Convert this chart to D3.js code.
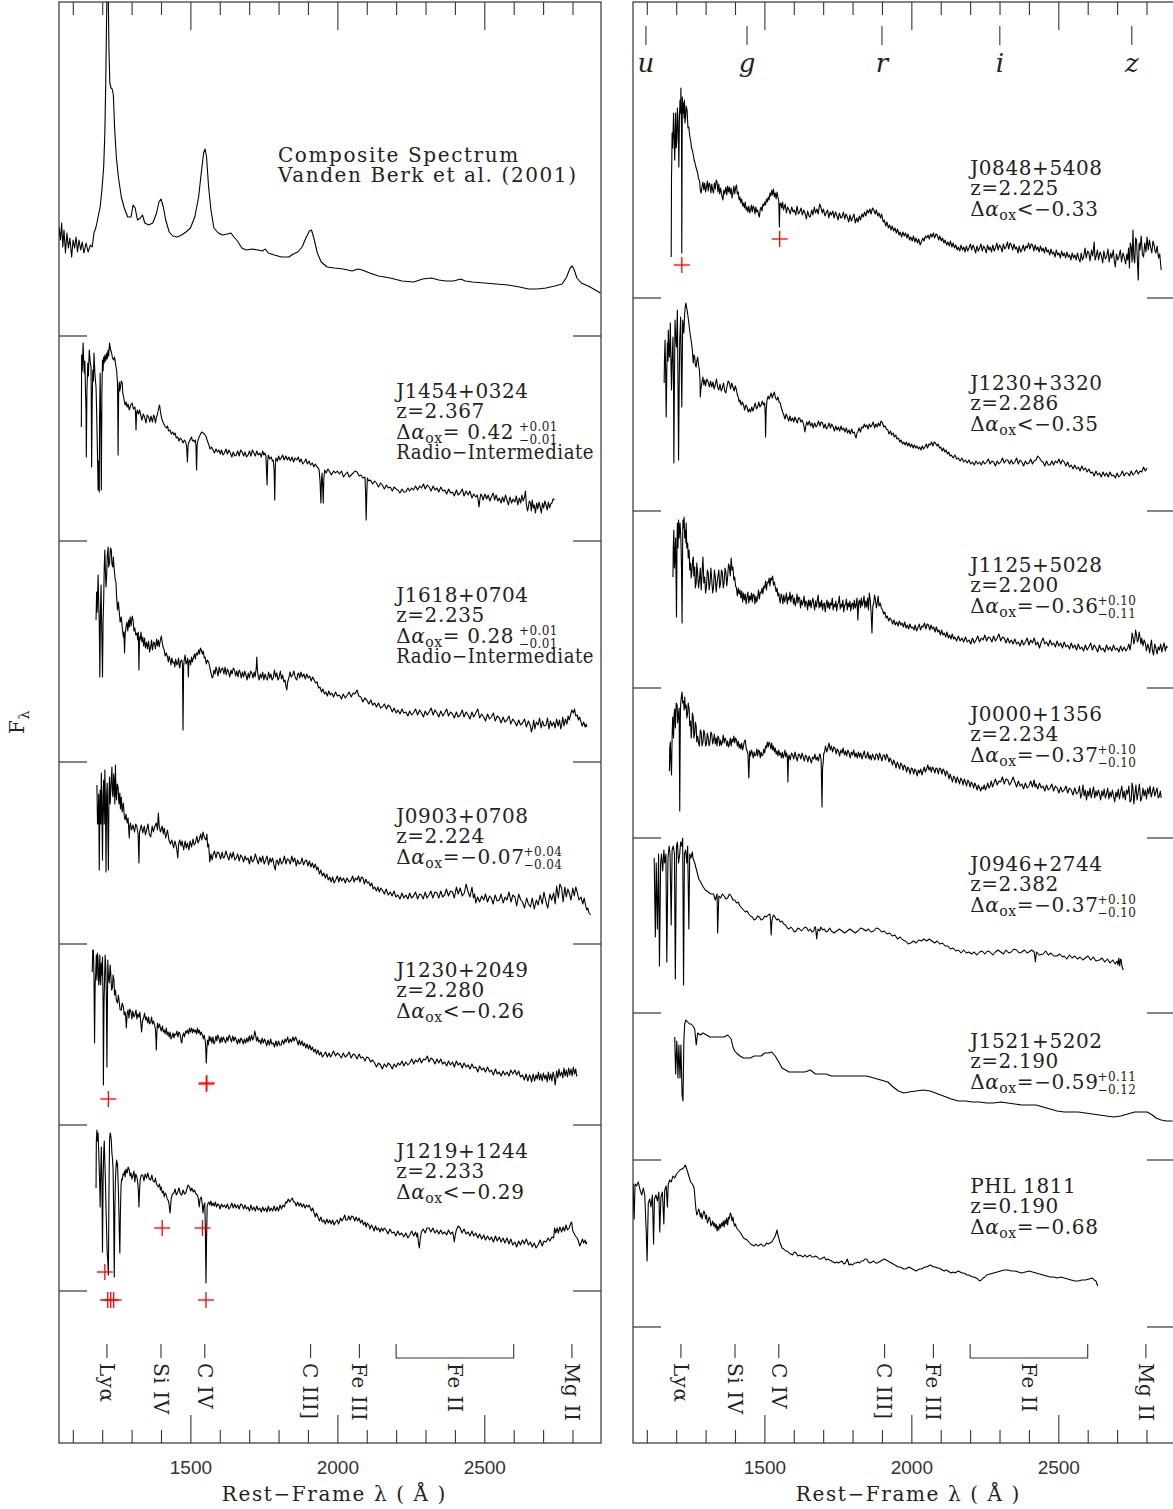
<!DOCTYPE html>
<html><head><meta charset="utf-8">
<script src="https://cdn.jsdelivr.net/npm/d3@7"></script>
<style>
body{margin:0;background:#fff}
svg{display:block}
.serif{font-family:"DejaVu Serif",serif;fill:#222;letter-spacing:0.6px}
</style>
</head><body>
<svg id="chart" width="1173" height="1509"></svg>
<script>
// ---------------- DATA ----------------
const waveDomain = [1053, 2897];           // rest-frame wavelength (Å)
const fluxDomain = [0, 1441];              // arbitrary F_lambda + offset units
const majorTicks = [1500, 2000, 2500];
const minorTicks = [1100,1200,1300,1400,1600,1700,1800,1900,2100,2200,2300,2400,2600,2700,2800];
const lineNames = ["Lyα", "Si IV", "C IV", "C III]", "Fe III", "Mg II"];
const lineWaves = [1216, 1400, 1549, 1909, 2075, 2798];
const feIIName = "Fe II";
const feIIRange = [2200, 2600];
const filterNames = ["u", "g", "r", "i", "z"];
const filterWaves = [1097, 1441, 1900, 2301, 2750];

// spectrum offsets (separator levels) per column
const leftOffsets  = [1107, 902, 681, 499, 318, 152];
const rightOffsets = [1145, 932, 755, 605, 430, 283, 116];

const composite = [[1053,109],[1058,96],[1062,113],[1066,89],[1070,106],[1075,83],[1080,103],[1085,88],[1090,98],[1096,79],[1101,96],[1106,88],[1111,99],[1116,84],[1121,96],[1127,86],[1132,94],[1138,83],[1145,93],[1152,84],[1160,91],[1166,89],[1172,103],[1179,109],[1186,119],[1193,129],[1199,146],[1205,169],[1209,203],[1212,253],[1215,319],[1217,353],[1220,353],[1223,286],[1226,253],[1230,248],[1234,247],[1238,241],[1242,209],[1248,179],[1255,159],[1265,139],[1275,128],[1287,119],[1298,119],[1305,131],[1312,128],[1320,116],[1330,118],[1337,121],[1345,113],[1358,111],[1372,113],[1385,123],[1393,134],[1400,137],[1408,129],[1416,116],[1428,104],[1440,100],[1455,99],[1470,101],[1485,104],[1500,108],[1515,119],[1528,139],[1537,163],[1545,183],[1550,187],[1555,179],[1562,149],[1570,126],[1580,108],[1595,103],[1610,101],[1625,102],[1638,103],[1648,99],[1660,95],[1675,88],[1690,86],[1710,87],[1730,86],[1745,85],[1755,87],[1765,83],[1785,81],[1810,79],[1835,79],[1850,82],[1865,84],[1880,89],[1893,98],[1905,105],[1912,106],[1920,98],[1932,83],[1945,74],[1965,69],[1990,68],[2020,67],[2050,65],[2070,67],[2085,66],[2110,63],[2140,60],[2180,58],[2220,55],[2260,54],[2290,57],[2320,58],[2345,56],[2370,55],[2395,55],[2420,57],[2435,55],[2460,54],[2500,53],[2540,52],[2580,51],[2620,49],[2650,47],[2680,47],[2710,48],[2740,50],[2765,52],[2780,59],[2792,68],[2799,70],[2806,66],[2815,58],[2830,53],[2860,49],[2895,43]];

const J1454 = [[1129,114],[1130,186],[1132,170],[1135,198],[1137,180],[1139,168],[1141,180],[1143,151],[1145,130],[1146,84],[1148,150],[1151,178],[1153,165],[1156,191],[1159,180],[1162,174],[1163,130],[1164,74],[1166,140],[1168,171],[1170,160],[1172,188],[1174,175],[1175,168],[1177,160],[1179,154],[1181,130],[1183,101],[1185,70],[1186,51],[1188,80],[1190,49],[1191,120],[1193,168],[1195,120],[1197,51],[1199,150],[1201,181],[1203,170],[1205,184],[1207,178],[1209,186],[1212,180],[1215,188],[1217,182],[1220,191],[1222,185],[1225,198],[1228,192],[1232,188],[1235,183],[1239,181],[1242,184],[1245,178],[1247,174],[1249,171],[1251,162],[1252,158],[1253,130],[1254,86],[1256,150],[1258,159],[1260,150],[1262,154],[1265,160],[1268,158],[1270,148],[1273,144],[1275,140],[1278,136],[1281,139],[1285,134],[1288,137],[1292,131],[1297,136],[1302,138],[1306,132],[1311,134],[1313,130],[1315,111],[1317,128],[1319,131],[1323,127],[1327,131],[1331,126],[1335,121],[1340,127],[1345,123],[1349,118],[1353,126],[1358,124],[1362,119],[1366,125],[1371,119],[1375,126],[1378,124],[1381,118],[1384,123],[1388,127],[1391,131],[1393,134],[1395,136],[1398,130],[1400,126],[1404,121],[1408,118],[1413,115],[1418,113],[1422,115],[1426,110],[1431,111],[1435,107],[1440,109],[1444,106],[1448,108],[1452,103],[1457,104],[1461,100],[1466,103],[1471,101],[1475,98],[1480,101],[1484,99],[1487,95],[1490,79],[1492,95],[1494,98],[1499,101],[1504,104],[1507,100],[1510,101],[1514,99],[1517,101],[1519,95],[1521,71],[1523,96],[1526,101],[1530,104],[1533,106],[1538,109],[1543,108],[1548,107],[1554,104],[1558,100],[1563,96],[1567,92],[1572,94],[1577,91],[1582,88],[1587,92],[1592,89],[1597,91],[1602,87],[1606,91],[1611,86],[1616,88],[1621,92],[1626,87],[1631,91],[1636,88],[1641,84],[1646,89],[1651,85],[1656,86],[1661,90],[1666,85],[1671,91],[1676,89],[1681,85],[1686,89],[1691,84],[1696,86],[1701,90],[1706,85],[1711,91],[1716,88],[1721,85],[1726,90],[1731,86],[1736,88],[1741,84],[1746,90],[1750,86],[1753,88],[1757,85],[1759,70],[1761,56],[1763,80],[1765,86],[1770,82],[1775,84],[1779,80],[1782,81],[1785,70],[1787,41],[1789,75],[1791,83],[1796,80],[1800,85],[1805,81],[1809,83],[1814,86],[1819,81],[1825,85],[1830,81],[1835,84],[1840,80],[1846,84],[1851,79],[1856,83],[1862,81],[1867,84],[1872,79],[1877,82],[1882,77],[1888,79],[1893,82],[1898,77],[1904,80],[1909,76],[1915,78],[1920,74],[1925,77],[1931,74],[1935,73],[1938,71],[1941,60],[1944,38],[1946,60],[1948,68],[1950,55],[1952,38],[1954,62],[1957,71],[1962,68],[1968,72],[1974,69],[1980,66],[1987,70],[1994,68],[2000,70],[2007,67],[2014,70],[2021,64],[2028,67],[2034,69],[2040,64],[2047,66],[2054,68],[2060,70],[2067,69],[2074,65],[2080,66],[2087,63],[2094,64],[2096,50],[2098,21],[2100,45],[2102,63],[2107,60],[2113,61],[2120,57],[2127,60],[2133,58],[2140,54],[2147,58],[2153,56],[2160,52],[2167,56],[2173,53],[2180,54],[2187,50],[2193,54],[2200,52],[2206,51],[2213,48],[2220,52],[2226,49],[2233,49],[2240,53],[2246,50],[2253,53],[2259,51],[2266,55],[2273,51],[2280,55],[2286,53],[2293,57],[2299,52],[2306,56],[2312,54],[2319,50],[2326,55],[2332,51],[2339,53],[2345,49],[2352,54],[2359,50],[2365,51],[2372,47],[2379,52],[2385,48],[2392,49],[2398,45],[2405,51],[2411,46],[2418,48],[2425,52],[2431,45],[2438,50],[2445,46],[2451,50],[2458,43],[2464,47],[2471,44],[2476,46],[2479,41],[2482,34],[2485,42],[2488,47],[2491,46],[2496,41],[2502,47],[2508,42],[2513,46],[2519,40],[2524,44],[2530,48],[2535,41],[2540,46],[2546,40],[2551,43],[2557,38],[2562,44],[2567,39],[2572,46],[2577,41],[2582,36],[2587,44],[2593,38],[2598,42],[2604,39],[2609,45],[2614,36],[2619,43],[2624,38],[2628,46],[2632,40],[2637,44],[2640,50],[2643,37],[2647,30],[2650,34],[2653,40],[2657,38],[2660,30],[2663,41],[2667,33],[2670,36],[2674,28],[2678,38],[2682,32],[2686,39],[2690,34],[2694,28],[2698,38],[2702,33],[2706,40],[2710,36],[2714,31],[2718,39],[2722,33],[2726,37],[2730,38],[2734,42],[2739,41]];

const J1618 = [[1179,142],[1181,170],[1183,150],[1186,187],[1188,160],[1190,140],[1192,85],[1194,150],[1196,177],[1198,140],[1201,85],[1203,140],[1205,162],[1207,195],[1209,212],[1211,190],[1213,175],[1215,185],[1217,205],[1220,215],[1222,195],[1225,199],[1228,214],[1231,212],[1233,198],[1236,195],[1238,205],[1241,192],[1244,183],[1247,179],[1249,165],[1252,152],[1255,160],[1258,150],[1261,140],[1265,145],[1268,135],[1272,125],[1274,130],[1276,109],[1278,128],[1281,135],[1284,140],[1287,131],[1290,142],[1292,135],[1295,145],[1298,136],[1302,146],[1305,142],[1308,131],[1311,134],[1314,127],[1318,129],[1321,122],[1323,130],[1325,92],[1327,125],[1329,122],[1332,130],[1335,120],[1338,125],[1341,116],[1344,124],[1347,114],[1351,120],[1354,113],[1358,121],[1361,110],[1365,115],[1368,122],[1371,112],[1375,120],[1378,119],[1381,113],[1385,123],[1388,116],[1391,122],[1394,115],[1398,122],[1401,126],[1404,120],[1407,115],[1411,112],[1414,106],[1418,109],[1422,105],[1425,100],[1428,106],[1431,102],[1434,97],[1437,104],[1441,99],[1444,100],[1447,95],[1450,103],[1454,97],[1457,99],[1460,104],[1462,96],[1464,94],[1467,101],[1471,102],[1473,98],[1475,32],[1477,96],[1479,102],[1482,107],[1485,98],[1488,100],[1491,104],[1493,85],[1495,100],[1498,102],[1501,97],[1504,105],[1507,100],[1510,104],[1514,108],[1517,103],[1520,109],[1524,107],[1528,112],[1531,108],[1534,114],[1537,112],[1541,108],[1544,111],[1547,104],[1550,105],[1554,98],[1558,102],[1563,99],[1567,93],[1571,88],[1574,84],[1577,85],[1580,92],[1584,88],[1587,95],[1590,92],[1594,86],[1598,95],[1602,89],[1606,93],[1610,94],[1614,88],[1618,95],[1622,87],[1626,93],[1630,90],[1634,85],[1638,92],[1642,88],[1646,94],[1650,92],[1654,86],[1658,91],[1662,85],[1666,92],[1669,90],[1673,84],[1677,90],[1681,85],[1685,91],[1689,87],[1693,82],[1697,89],[1701,84],[1705,91],[1709,89],[1713,84],[1717,90],[1720,85],[1722,89],[1724,94],[1726,105],[1728,92],[1730,87],[1734,82],[1738,88],[1742,84],[1746,90],[1750,82],[1754,88],[1758,84],[1762,82],[1766,90],[1770,84],[1774,88],[1778,82],[1782,84],[1786,92],[1790,85],[1794,89],[1798,82],[1802,85],[1806,91],[1810,83],[1814,87],[1818,80],[1822,82],[1825,76],[1828,72],[1831,80],[1835,84],[1839,90],[1843,85],[1848,87],[1852,91],[1857,84],[1862,82],[1865,88],[1868,89],[1872,84],[1876,90],[1881,85],[1886,88],[1891,83],[1896,88],[1901,84],[1906,86],[1911,81],[1916,85],[1921,82],[1926,79],[1931,80],[1936,74],[1941,75],[1946,70],[1951,73],[1956,68],[1961,70],[1966,66],[1971,71],[1976,67],[1981,69],[1987,65],[1994,70],[2000,66],[2007,67],[2014,63],[2020,68],[2027,64],[2034,67],[2040,70],[2047,65],[2054,69],[2060,68],[2067,72],[2073,66],[2080,65],[2087,60],[2093,64],[2100,62],[2107,58],[2114,62],[2120,57],[2127,59],[2133,55],[2140,59],[2147,54],[2153,55],[2160,58],[2167,53],[2173,57],[2180,55],[2187,50],[2193,54],[2200,49],[2206,52],[2213,48],[2220,53],[2226,49],[2233,50],[2240,46],[2246,51],[2253,47],[2259,49],[2266,53],[2273,47],[2280,52],[2286,49],[2293,45],[2299,51],[2306,47],[2312,50],[2319,54],[2326,47],[2332,52],[2339,49],[2345,45],[2352,51],[2359,46],[2365,49],[2372,53],[2378,46],[2385,50],[2392,48],[2398,44],[2405,50],[2411,45],[2418,47],[2425,52],[2431,45],[2438,50],[2445,47],[2451,43],[2458,50],[2464,45],[2471,49],[2478,53],[2484,44],[2491,48],[2498,45],[2504,41],[2511,48],[2518,43],[2524,45],[2531,49],[2537,41],[2544,46],[2551,44],[2557,39],[2564,45],[2570,40],[2577,42],[2584,46],[2590,38],[2597,43],[2604,40],[2610,36],[2617,42],[2623,37],[2630,39],[2637,43],[2643,35],[2650,41],[2657,36],[2660,30],[2664,34],[2668,42],[2672,33],[2677,40],[2683,37],[2688,44],[2693,34],[2698,41],[2703,36],[2710,37],[2715,44],[2720,33],[2725,41],[2730,36],[2736,40],[2741,34],[2746,43],[2751,36],[2756,42],[2760,33],[2763,37],[2767,45],[2771,36],[2776,43],[2781,38],[2785,46],[2789,42],[2794,48],[2798,52],[2803,49],[2807,53],[2811,46],[2816,47],[2820,42],[2824,45],[2829,40],[2833,36],[2838,40],[2843,35],[2846,38],[2849,35]];

const J0903 = [[1182,159],[1184,120],[1186,122],[1188,150],[1190,74],[1192,140],[1193,154],[1195,120],[1197,171],[1199,130],[1201,84],[1203,150],[1205,164],[1207,120],[1209,174],[1211,140],[1213,72],[1215,150],[1217,161],[1219,120],[1221,74],[1223,150],[1225,167],[1227,140],[1229,154],[1231,165],[1233,177],[1235,150],[1237,147],[1239,170],[1241,161],[1243,140],[1245,179],[1247,150],[1249,144],[1251,160],[1254,157],[1257,140],[1260,151],[1262,135],[1265,147],[1268,132],[1272,141],[1275,128],[1278,124],[1281,130],[1285,121],[1288,126],[1292,106],[1294,118],[1296,121],[1300,114],[1305,119],[1310,112],[1314,120],[1318,117],[1322,110],[1325,81],[1327,112],[1329,114],[1333,119],[1338,111],[1343,118],[1347,109],[1351,114],[1356,120],[1360,110],[1365,107],[1370,118],[1374,112],[1378,117],[1384,121],[1388,114],[1391,131],[1394,118],[1398,112],[1404,118],[1408,110],[1411,116],[1416,106],[1422,114],[1427,104],[1432,100],[1437,104],[1443,96],[1447,103],[1451,99],[1454,94],[1457,86],[1460,100],[1464,104],[1468,98],[1472,103],[1477,94],[1482,103],[1486,96],[1490,101],[1495,94],[1499,103],[1504,97],[1509,105],[1513,99],[1517,101],[1522,108],[1526,101],[1530,104],[1535,110],[1539,104],[1543,112],[1548,106],[1553,104],[1556,110],[1559,97],[1562,100],[1566,82],[1570,90],[1574,84],[1577,89],[1582,93],[1587,86],[1592,92],[1597,91],[1603,85],[1608,92],[1612,86],[1616,87],[1621,93],[1626,88],[1631,84],[1636,91],[1641,86],[1646,92],[1651,84],[1656,86],[1661,90],[1666,83],[1671,89],[1676,87],[1681,82],[1686,88],[1691,84],[1696,86],[1701,80],[1706,88],[1711,82],[1716,84],[1721,90],[1726,85],[1731,80],[1736,87],[1741,82],[1746,88],[1751,80],[1756,84],[1761,88],[1766,79],[1771,86],[1775,82],[1780,86],[1785,78],[1789,74],[1792,83],[1795,84],[1800,79],[1805,86],[1810,80],[1815,82],[1820,88],[1825,80],[1830,85],[1835,84],[1840,80],[1845,88],[1850,82],[1855,86],[1860,78],[1865,84],[1870,80],[1875,81],[1880,86],[1885,79],[1890,83],[1895,84],[1900,78],[1905,83],[1910,77],[1915,81],[1920,76],[1925,80],[1930,74],[1934,77],[1939,70],[1944,74],[1949,68],[1954,71],[1959,66],[1964,70],[1969,64],[1974,67],[1979,62],[1984,67],[1989,61],[1994,64],[2000,68],[2005,62],[2010,67],[2015,63],[2021,66],[2027,61],[2033,66],[2040,62],[2047,64],[2052,68],[2057,62],[2062,66],[2067,64],[2072,68],[2077,62],[2082,67],[2087,66],[2092,60],[2097,65],[2102,61],[2107,62],[2112,58],[2117,61],[2122,55],[2127,57],[2133,53],[2138,57],[2143,52],[2148,56],[2153,54],[2160,50],[2166,55],[2173,49],[2180,52],[2186,48],[2193,53],[2199,47],[2206,49],[2213,45],[2220,51],[2226,46],[2233,49],[2240,45],[2246,51],[2252,46],[2259,48],[2266,52],[2273,45],[2280,50],[2286,49],[2292,45],[2299,52],[2305,46],[2312,49],[2318,53],[2325,46],[2332,52],[2339,51],[2345,46],[2352,53],[2358,47],[2365,49],[2371,55],[2378,48],[2385,53],[2392,52],[2398,46],[2405,57],[2411,50],[2418,56],[2425,48],[2432,51],[2438,60],[2445,52],[2451,47],[2458,57],[2463,46],[2467,50],[2471,41],[2477,47],[2484,42],[2491,48],[2498,44],[2504,50],[2511,42],[2518,48],[2524,46],[2530,40],[2537,49],[2544,43],[2551,44],[2557,50],[2564,41],[2571,47],[2577,44],[2584,52],[2591,42],[2597,49],[2604,47],[2610,38],[2617,50],[2624,44],[2630,42],[2637,36],[2644,46],[2650,40],[2657,37],[2663,46],[2670,35],[2677,44],[2683,39],[2690,49],[2697,40],[2703,52],[2710,42],[2716,36],[2723,50],[2729,44],[2736,51],[2741,40],[2746,58],[2752,46],[2757,60],[2763,56],[2768,42],[2774,57],[2779,47],[2784,55],[2789,51],[2795,44],[2801,56],[2806,48],[2811,57],[2816,52],[2822,44],[2829,47],[2835,40],[2840,46],[2843,41],[2848,34],[2852,36],[2856,31],[2862,29]];

const J1230a = [[1166,153],[1168,175],[1170,175],[1172,150],[1174,82],[1176,140],[1178,152],[1180,170],[1182,145],[1184,172],[1186,165],[1188,140],[1190,145],[1192,170],[1193,158],[1195,140],[1197,162],[1199,150],[1201,168],[1203,120],[1204,40],[1206,120],[1208,145],[1210,170],[1212,158],[1214,130],[1216,58],[1218,130],[1219,165],[1221,150],[1224,142],[1227,160],[1229,152],[1232,135],[1235,138],[1237,150],[1240,145],[1242,130],[1245,135],[1248,125],[1252,122],[1255,130],[1258,123],[1261,115],[1265,115],[1268,122],[1272,118],[1275,110],[1278,113],[1280,108],[1282,97],[1285,112],[1288,115],[1291,107],[1294,116],[1298,113],[1301,106],[1304,114],[1308,108],[1311,110],[1315,115],[1318,106],[1321,111],[1325,108],[1328,113],[1331,103],[1334,93],[1337,104],[1341,107],[1344,112],[1348,105],[1351,108],[1355,102],[1358,108],[1361,101],[1365,103],[1368,108],[1371,101],[1375,104],[1378,100],[1381,96],[1383,85],[1384,75],[1386,92],[1388,102],[1391,97],[1395,101],[1398,97],[1401,94],[1405,99],[1408,93],[1411,95],[1414,91],[1418,97],[1421,90],[1424,93],[1428,88],[1431,93],[1434,86],[1437,88],[1441,92],[1444,87],[1447,91],[1451,90],[1454,94],[1458,88],[1461,93],[1464,92],[1467,87],[1469,83],[1471,82],[1473,88],[1477,92],[1480,88],[1484,94],[1487,92],[1490,95],[1494,91],[1497,97],[1500,93],[1504,97],[1507,92],[1510,96],[1514,93],[1517,95],[1521,91],[1524,97],[1527,92],[1530,95],[1534,90],[1537,93],[1541,90],[1544,86],[1547,90],[1550,85],[1552,78],[1554,62],[1556,75],[1558,85],[1561,80],[1564,89],[1567,84],[1570,88],[1573,82],[1577,88],[1580,81],[1583,83],[1587,89],[1590,84],[1593,90],[1597,87],[1601,82],[1605,88],[1608,83],[1612,88],[1616,85],[1620,82],[1624,88],[1628,84],[1632,90],[1636,87],[1640,83],[1644,89],[1648,84],[1652,88],[1656,85],[1660,81],[1664,86],[1668,82],[1672,87],[1676,85],[1680,81],[1684,86],[1688,82],[1692,87],[1696,83],[1700,89],[1704,84],[1708,90],[1712,85],[1716,88],[1719,94],[1722,90],[1725,84],[1729,88],[1732,83],[1736,85],[1740,81],[1744,87],[1748,82],[1752,86],[1756,83],[1760,79],[1764,85],[1769,80],[1773,86],[1777,81],[1782,82],[1786,78],[1791,84],[1795,79],[1800,84],[1804,80],[1809,80],[1813,85],[1818,81],[1822,86],[1826,83],[1831,88],[1835,82],[1840,86],[1844,83],[1849,88],[1853,84],[1858,88],[1862,85],[1867,80],[1871,85],[1875,80],[1880,84],[1884,79],[1888,82],[1893,77],[1897,81],[1902,76],[1906,80],[1911,75],[1915,78],[1920,73],[1925,76],[1929,71],[1934,75],[1939,70],[1944,73],[1949,68],[1954,70],[1960,73],[1966,68],[1972,72],[1977,68],[1981,70],[1987,74],[1994,69],[2000,72],[2007,70],[2014,67],[2020,72],[2027,68],[2034,70],[2040,73],[2047,67],[2054,71],[2060,70],[2067,66],[2074,71],[2080,67],[2087,68],[2094,64],[2100,68],[2107,67],[2113,63],[2120,65],[2127,62],[2133,58],[2140,62],[2147,60],[2153,56],[2160,61],[2167,58],[2173,62],[2180,60],[2187,56],[2193,61],[2200,58],[2206,62],[2213,60],[2220,64],[2226,59],[2233,63],[2240,60],[2246,62],[2253,66],[2260,61],[2266,65],[2273,63],[2280,67],[2286,62],[2293,66],[2299,65],[2306,69],[2312,63],[2319,67],[2326,65],[2332,61],[2339,66],[2345,62],[2352,66],[2358,61],[2365,63],[2372,59],[2378,64],[2385,60],[2392,63],[2398,58],[2405,64],[2411,60],[2418,62],[2425,57],[2431,62],[2438,58],[2445,60],[2451,56],[2458,61],[2464,57],[2471,58],[2478,53],[2484,59],[2491,55],[2498,57],[2504,53],[2511,58],[2518,53],[2524,55],[2531,50],[2538,56],[2544,51],[2551,53],[2557,49],[2564,54],[2570,50],[2577,53],[2584,49],[2590,55],[2597,51],[2604,55],[2610,50],[2617,54],[2623,48],[2630,50],[2636,45],[2642,51],[2648,44],[2654,50],[2657,48],[2661,43],[2666,51],[2671,44],[2676,50],[2680,46],[2684,53],[2688,45],[2692,51],[2697,44],[2701,52],[2706,46],[2710,50],[2714,43],[2718,53],[2722,45],[2726,51],[2730,44],[2734,53],[2738,48],[2741,40],[2743,45],[2746,54],[2750,47],[2754,56],[2758,49],[2763,53],[2767,47],[2771,57],[2775,49],[2779,55],[2783,48],[2787,57],[2791,50],[2795,56],[2799,49],[2803,58],[2807,51],[2811,56],[2814,49],[2816,50]];

const J1219 = [[1179,103],[1180,150],[1182,161],[1184,150],[1186,158],[1188,140],[1190,121],[1192,100],[1193,84],[1195,120],[1197,144],[1199,110],[1201,39],[1203,110],[1205,138],[1207,150],[1209,128],[1211,110],[1213,81],[1215,60],[1217,38],[1219,30],[1221,16],[1223,100],[1225,151],[1227,158],[1229,156],[1231,150],[1233,138],[1235,132],[1237,121],[1239,80],[1241,14],[1243,80],[1245,111],[1247,125],[1249,131],[1251,125],[1252,128],[1254,110],[1256,91],[1258,60],[1260,38],[1262,80],[1264,104],[1266,112],[1268,111],[1271,117],[1273,116],[1276,120],[1278,114],[1281,122],[1285,118],[1288,124],[1292,121],[1295,115],[1298,118],[1301,112],[1305,116],[1308,120],[1311,109],[1314,117],[1318,114],[1321,108],[1323,100],[1325,84],[1327,100],[1329,111],[1333,116],[1338,116],[1342,110],[1346,117],[1351,113],[1355,118],[1360,112],[1365,111],[1369,116],[1373,110],[1378,109],[1381,113],[1384,108],[1388,105],[1391,104],[1395,107],[1398,101],[1401,104],[1404,98],[1408,100],[1411,94],[1414,98],[1418,96],[1421,92],[1424,91],[1427,88],[1429,82],[1431,78],[1433,86],[1435,93],[1439,97],[1444,98],[1448,102],[1452,96],[1457,99],[1461,103],[1466,97],[1471,96],[1475,101],[1480,97],[1484,98],[1488,102],[1492,106],[1497,104],[1501,100],[1505,103],[1510,99],[1514,101],[1519,97],[1524,96],[1527,92],[1530,84],[1533,92],[1537,94],[1540,88],[1543,78],[1546,86],[1549,88],[1551,60],[1553,8],[1555,50],[1557,84],[1560,88],[1563,89],[1566,86],[1570,90],[1573,85],[1577,88],[1581,85],[1585,89],[1589,84],[1593,87],[1597,86],[1601,82],[1606,87],[1611,84],[1616,86],[1621,83],[1626,87],[1631,82],[1636,84],[1641,88],[1646,83],[1651,87],[1656,83],[1661,86],[1666,82],[1671,87],[1676,86],[1681,82],[1686,86],[1691,82],[1696,84],[1701,80],[1706,86],[1711,81],[1716,84],[1721,80],[1726,85],[1731,81],[1736,83],[1741,79],[1746,84],[1751,80],[1756,83],[1761,79],[1765,85],[1770,80],[1775,83],[1780,80],[1785,85],[1790,80],[1795,84],[1800,80],[1805,86],[1810,82],[1815,86],[1820,84],[1824,89],[1828,88],[1833,92],[1838,89],[1842,91],[1847,93],[1851,89],[1855,89],[1860,85],[1865,89],[1870,85],[1875,88],[1880,84],[1885,87],[1890,83],[1895,86],[1900,84],[1904,86],[1908,83],[1912,80],[1916,83],[1921,78],[1925,74],[1929,78],[1934,74],[1939,70],[1944,74],[1949,69],[1954,71],[1959,67],[1964,72],[1969,68],[1974,71],[1979,67],[1984,71],[1989,66],[1994,69],[2000,71],[2004,67],[2007,69],[2011,73],[2016,70],[2021,73],[2025,76],[2029,71],[2034,71],[2039,75],[2044,71],[2049,75],[2054,74],[2059,70],[2064,74],[2069,70],[2074,73],[2079,68],[2084,71],[2089,66],[2094,69],[2098,64],[2102,68],[2107,66],[2111,62],[2116,66],[2120,64],[2125,60],[2130,65],[2135,61],[2140,63],[2145,59],[2150,63],[2155,60],[2160,63],[2166,61],[2172,57],[2179,62],[2186,58],[2193,59],[2199,55],[2206,60],[2212,56],[2219,58],[2226,54],[2233,58],[2240,53],[2246,56],[2253,60],[2260,55],[2266,59],[2271,54],[2273,58],[2276,48],[2279,43],[2282,52],[2286,59],[2292,62],[2299,58],[2305,63],[2312,63],[2318,59],[2325,63],[2332,58],[2339,61],[2345,57],[2352,61],[2358,57],[2365,59],[2372,56],[2378,61],[2385,57],[2392,59],[2395,55],[2398,49],[2401,56],[2405,61],[2411,65],[2418,63],[2424,58],[2431,62],[2438,57],[2445,59],[2451,55],[2458,60],[2464,55],[2471,58],[2478,53],[2484,57],[2491,52],[2498,56],[2504,51],[2511,55],[2518,51],[2524,54],[2531,49],[2538,55],[2544,50],[2551,54],[2557,49],[2564,53],[2570,48],[2577,53],[2584,47],[2590,52],[2597,46],[2604,49],[2610,44],[2617,50],[2623,46],[2630,51],[2636,47],[2643,52],[2650,46],[2657,49],[2663,44],[2670,48],[2676,43],[2683,46],[2690,51],[2697,45],[2703,50],[2710,49],[2717,53],[2723,50],[2730,54],[2736,53],[2739,63],[2743,58],[2748,63],[2752,58],[2757,64],[2763,59],[2768,64],[2773,60],[2778,66],[2783,61],[2789,63],[2793,67],[2797,69],[2801,60],[2805,58],[2810,55],[2816,53],[2820,50],[2825,45],[2829,48],[2834,52],[2838,48],[2843,51],[2846,47],[2849,49]];

const J0848 = [[1183,41],[1184,120],[1185,138],[1186,165],[1188,150],[1191,185],[1193,160],[1195,138],[1197,170],[1198,185],[1200,150],[1202,158],[1204,190],[1206,178],[1208,150],[1209,131],[1211,180],[1213,198],[1215,185],[1216,210],[1218,170],[1219,45],[1220,150],[1221,201],[1223,185],[1225,195],[1227,180],[1228,198],[1230,175],[1232,181],[1234,192],[1237,188],[1240,170],[1243,171],[1246,162],[1249,158],[1252,150],[1255,148],[1258,143],[1261,138],[1264,135],[1267,131],[1270,128],[1273,125],[1276,119],[1279,118],[1282,108],[1285,105],[1288,112],[1291,116],[1294,108],[1297,115],[1300,106],[1303,111],[1306,117],[1309,107],[1312,115],[1315,113],[1318,105],[1321,114],[1324,108],[1327,105],[1330,115],[1333,109],[1336,118],[1339,116],[1342,106],[1345,114],[1348,104],[1351,110],[1355,103],[1359,98],[1362,108],[1365,104],[1369,111],[1372,103],[1375,112],[1378,106],[1381,111],[1384,104],[1387,110],[1390,100],[1393,105],[1396,112],[1399,104],[1402,110],[1405,113],[1408,104],[1411,106],[1414,98],[1417,101],[1420,95],[1423,99],[1426,92],[1429,95],[1432,90],[1435,96],[1438,88],[1441,91],[1444,86],[1447,92],[1450,85],[1453,88],[1456,93],[1459,86],[1462,92],[1465,90],[1468,84],[1471,91],[1474,86],[1477,88],[1480,84],[1483,81],[1486,89],[1489,91],[1492,87],[1495,94],[1498,92],[1501,96],[1504,93],[1507,99],[1510,96],[1513,101],[1516,98],[1519,105],[1522,102],[1525,108],[1528,103],[1531,109],[1534,101],[1537,105],[1540,99],[1543,106],[1546,101],[1549,97],[1551,71],[1553,94],[1556,95],[1559,90],[1562,96],[1565,88],[1567,90],[1571,94],[1575,85],[1579,91],[1584,88],[1588,84],[1593,91],[1598,86],[1602,88],[1607,83],[1611,92],[1616,84],[1620,86],[1625,90],[1629,83],[1634,88],[1638,85],[1643,79],[1647,87],[1652,82],[1656,81],[1661,88],[1665,83],[1670,91],[1674,85],[1679,89],[1683,84],[1688,94],[1692,91],[1697,85],[1701,89],[1706,82],[1710,85],[1715,88],[1719,80],[1724,86],[1728,83],[1733,87],[1737,80],[1742,86],[1746,83],[1751,78],[1755,85],[1760,80],[1764,81],[1769,86],[1773,79],[1778,84],[1782,81],[1787,76],[1791,83],[1796,77],[1800,80],[1805,84],[1809,75],[1814,80],[1818,76],[1823,82],[1827,78],[1832,84],[1836,81],[1841,86],[1845,82],[1850,88],[1854,85],[1859,89],[1863,84],[1868,90],[1872,88],[1877,84],[1881,88],[1886,82],[1890,85],[1895,80],[1899,84],[1904,76],[1908,78],[1913,72],[1917,76],[1922,70],[1926,73],[1931,68],[1935,72],[1940,67],[1944,70],[1949,65],[1953,69],[1958,63],[1962,66],[1967,61],[1971,66],[1976,62],[1980,65],[1985,60],[1989,64],[1994,58],[1998,61],[2003,57],[2007,62],[2012,56],[2016,60],[2021,55],[2025,59],[2030,53],[2034,56],[2039,60],[2043,57],[2048,62],[2052,60],[2057,63],[2061,59],[2066,64],[2070,61],[2075,65],[2079,60],[2084,64],[2088,63],[2093,58],[2097,62],[2102,57],[2106,60],[2111,55],[2115,58],[2120,53],[2124,56],[2129,52],[2133,57],[2138,51],[2142,55],[2147,50],[2151,53],[2156,48],[2160,51],[2165,47],[2169,53],[2174,48],[2178,51],[2183,46],[2187,52],[2192,47],[2196,50],[2201,54],[2205,48],[2210,53],[2214,50],[2219,45],[2223,52],[2228,47],[2232,50],[2237,54],[2241,47],[2246,52],[2250,50],[2255,45],[2259,53],[2264,48],[2268,51],[2273,46],[2277,53],[2282,47],[2286,50],[2291,55],[2295,48],[2300,53],[2304,51],[2309,46],[2313,54],[2318,49],[2322,51],[2327,56],[2331,49],[2336,55],[2340,53],[2345,48],[2349,54],[2354,49],[2358,51],[2363,45],[2367,52],[2372,46],[2376,48],[2381,53],[2385,47],[2390,52],[2394,50],[2399,55],[2403,49],[2408,54],[2412,53],[2417,47],[2421,53],[2426,48],[2430,51],[2435,46],[2439,52],[2444,47],[2448,50],[2453,45],[2457,51],[2462,46],[2466,48],[2471,43],[2475,49],[2480,44],[2484,46],[2489,41],[2493,48],[2498,43],[2502,45],[2507,40],[2511,47],[2516,42],[2520,45],[2525,40],[2529,46],[2534,41],[2538,43],[2543,38],[2547,45],[2552,40],[2556,43],[2561,38],[2565,45],[2570,39],[2574,36],[2578,45],[2582,38],[2586,41],[2591,50],[2595,40],[2600,47],[2604,45],[2608,37],[2613,48],[2617,42],[2622,56],[2625,38],[2628,41],[2633,48],[2637,38],[2642,46],[2646,43],[2651,35],[2655,47],[2660,39],[2664,41],[2669,49],[2673,36],[2678,45],[2682,40],[2687,48],[2691,36],[2694,31],[2698,44],[2702,38],[2706,41],[2711,48],[2715,36],[2720,45],[2724,41],[2729,34],[2733,44],[2736,38],[2739,50],[2742,30],[2745,55],[2748,51],[2751,36],[2754,68],[2757,40],[2760,35],[2763,60],[2766,58],[2769,38],[2772,18],[2775,55],[2778,48],[2782,62],[2786,44],[2790,41],[2794,55],[2798,46],[2802,61],[2806,48],[2810,58],[2814,51],[2818,45],[2822,57],[2826,53],[2829,47],[2832,45],[2836,52],[2841,40],[2845,44],[2850,28]];

const J1230b = [[1159,128],[1160,150],[1162,171],[1164,140],[1166,94],[1168,140],[1170,168],[1172,150],[1173,181],[1175,160],[1177,154],[1179,175],[1180,188],[1182,150],[1184,121],[1186,150],[1189,174],[1191,120],[1192,48],[1194,130],[1196,191],[1198,175],[1201,164],[1203,190],[1204,201],[1206,130],[1208,51],[1210,120],[1212,171],[1214,185],[1215,194],[1217,150],[1219,104],[1221,160],[1222,191],[1224,185],[1226,178],[1228,192],[1229,198],[1231,205],[1233,208],[1235,204],[1237,201],[1240,195],[1243,188],[1246,180],[1249,174],[1252,168],[1255,161],[1257,152],[1258,148],[1260,156],[1263,154],[1265,146],[1268,144],[1270,150],[1273,154],[1276,146],[1279,141],[1281,130],[1282,114],[1284,122],[1287,128],[1291,134],[1294,126],[1297,131],[1300,125],[1304,132],[1309,129],[1313,124],[1317,130],[1321,124],[1325,129],[1329,122],[1333,126],[1337,132],[1341,124],[1345,121],[1349,127],[1353,120],[1357,123],[1361,128],[1365,120],[1369,118],[1373,125],[1377,130],[1381,128],[1385,122],[1389,128],[1393,124],[1397,120],[1401,125],[1405,121],[1408,116],[1411,114],[1414,109],[1417,111],[1421,106],[1425,109],[1429,106],[1433,101],[1437,106],[1441,104],[1445,99],[1449,102],[1453,99],[1457,104],[1461,100],[1465,104],[1469,108],[1473,102],[1477,104],[1481,109],[1485,104],[1489,106],[1493,110],[1497,106],[1501,108],[1503,95],[1504,74],[1506,100],[1509,111],[1513,115],[1516,112],[1519,114],[1523,118],[1527,113],[1530,116],[1534,119],[1538,113],[1542,111],[1546,114],[1550,109],[1554,108],[1558,103],[1562,99],[1566,96],[1570,92],[1574,97],[1578,94],[1583,90],[1587,95],[1591,90],[1596,93],[1600,89],[1604,94],[1608,91],[1612,88],[1616,93],[1620,93],[1624,89],[1628,91],[1632,88],[1635,84],[1638,79],[1641,85],[1644,89],[1648,86],[1653,90],[1657,85],[1662,88],[1666,83],[1671,88],[1676,84],[1680,86],[1684,90],[1689,85],[1693,89],[1698,88],[1702,83],[1707,87],[1711,82],[1716,84],[1720,88],[1725,83],[1729,87],[1734,84],[1738,80],[1743,85],[1747,81],[1752,84],[1756,80],[1761,85],[1765,81],[1770,83],[1774,79],[1779,83],[1783,78],[1788,81],[1792,77],[1797,82],[1801,78],[1806,79],[1809,75],[1812,73],[1815,78],[1818,79],[1822,83],[1827,79],[1831,84],[1836,83],[1840,87],[1844,84],[1848,86],[1853,82],[1857,87],[1862,84],[1866,86],[1870,89],[1875,83],[1879,87],[1884,84],[1888,88],[1893,85],[1897,90],[1902,88],[1906,84],[1911,85],[1915,82],[1920,81],[1924,77],[1929,80],[1933,76],[1938,78],[1942,74],[1947,76],[1951,72],[1956,73],[1961,69],[1965,71],[1970,67],[1974,69],[1979,66],[1983,69],[1988,65],[1992,68],[1997,64],[2001,67],[2006,63],[2010,66],[2015,63],[2019,65],[2024,62],[2028,64],[2033,61],[2037,65],[2042,62],[2046,64],[2051,67],[2055,63],[2060,67],[2064,66],[2069,69],[2073,65],[2078,69],[2082,68],[2087,65],[2091,67],[2096,63],[2100,64],[2105,60],[2109,63],[2114,59],[2118,61],[2123,57],[2127,59],[2132,55],[2136,56],[2142,53],[2148,56],[2154,52],[2160,53],[2166,50],[2172,53],[2178,49],[2184,51],[2190,48],[2196,51],[2202,47],[2208,49],[2214,46],[2220,50],[2226,47],[2232,49],[2238,46],[2244,50],[2250,47],[2256,49],[2262,52],[2268,47],[2274,50],[2280,49],[2286,45],[2292,50],[2298,47],[2304,49],[2310,53],[2316,48],[2322,51],[2328,51],[2334,47],[2340,51],[2346,47],[2352,49],[2358,53],[2364,47],[2370,51],[2376,49],[2382,45],[2388,50],[2394,47],[2400,48],[2406,52],[2412,47],[2418,50],[2424,51],[2430,55],[2436,53],[2442,50],[2448,49],[2454,45],[2460,50],[2466,46],[2472,46],[2478,50],[2484,46],[2490,50],[2496,48],[2502,52],[2508,47],[2514,51],[2520,49],[2526,45],[2532,49],[2538,44],[2544,46],[2550,42],[2556,46],[2562,42],[2568,44],[2574,40],[2580,45],[2586,41],[2592,43],[2598,39],[2604,42],[2610,38],[2616,39],[2622,35],[2628,40],[2634,36],[2640,38],[2646,34],[2652,39],[2658,35],[2664,38],[2670,34],[2676,39],[2682,35],[2688,36],[2694,33],[2700,38],[2706,34],[2712,36],[2718,40],[2724,35],[2730,38],[2736,38],[2742,35],[2748,40],[2754,36],[2760,38],[2766,41],[2772,37],[2778,40],[2784,39],[2790,44],[2796,40],[2802,43]];

const J1125 = [[1189,111],[1190,140],[1192,158],[1194,120],[1196,131],[1198,150],[1201,71],[1203,150],[1204,165],[1206,140],[1208,168],[1210,150],[1213,165],[1215,155],[1216,148],[1218,120],[1220,65],[1222,150],[1223,168],[1225,160],[1227,171],[1229,150],[1231,158],[1233,145],[1234,165],[1236,140],[1239,145],[1241,130],[1244,138],[1246,118],[1249,125],[1251,110],[1253,115],[1256,128],[1258,131],[1260,112],[1263,121],[1265,100],[1268,105],[1270,125],[1273,115],[1276,100],[1279,108],[1282,120],[1285,98],[1288,115],[1291,131],[1294,105],[1297,111],[1300,95],[1303,101],[1306,118],[1309,115],[1312,98],[1315,105],[1318,120],[1321,108],[1324,95],[1327,101],[1330,118],[1333,111],[1336,96],[1339,105],[1342,112],[1345,118],[1348,100],[1351,105],[1354,118],[1357,115],[1360,100],[1363,105],[1366,120],[1369,116],[1372,102],[1375,111],[1378,124],[1381,121],[1384,112],[1387,130],[1390,118],[1393,121],[1396,108],[1399,111],[1402,102],[1405,100],[1408,92],[1411,100],[1414,94],[1417,98],[1420,90],[1423,97],[1426,86],[1429,95],[1432,88],[1435,94],[1438,84],[1441,91],[1444,96],[1447,85],[1450,92],[1453,88],[1456,95],[1459,86],[1462,94],[1465,93],[1468,84],[1471,92],[1474,86],[1477,90],[1480,98],[1483,89],[1486,96],[1489,95],[1492,100],[1495,94],[1498,102],[1501,100],[1504,107],[1507,98],[1510,106],[1513,105],[1516,110],[1519,102],[1522,110],[1525,108],[1528,112],[1531,103],[1534,106],[1537,101],[1540,96],[1543,100],[1546,92],[1549,95],[1552,88],[1554,85],[1557,94],[1560,91],[1563,84],[1566,93],[1569,86],[1572,90],[1575,95],[1578,84],[1581,91],[1584,88],[1587,96],[1590,86],[1593,92],[1596,93],[1599,84],[1602,90],[1605,82],[1608,86],[1611,94],[1614,85],[1617,91],[1620,90],[1623,80],[1626,88],[1629,83],[1632,86],[1635,92],[1638,81],[1641,87],[1644,85],[1647,78],[1650,88],[1653,82],[1656,88],[1659,80],[1662,86],[1665,90],[1668,83],[1671,78],[1674,87],[1677,81],[1680,88],[1683,93],[1686,80],[1689,86],[1692,81],[1695,88],[1698,78],[1701,84],[1704,85],[1707,76],[1710,84],[1713,88],[1716,80],[1719,86],[1722,79],[1725,85],[1728,83],[1731,90],[1734,78],[1737,84],[1740,81],[1743,87],[1746,77],[1749,84],[1752,85],[1755,92],[1758,79],[1761,84],[1764,81],[1767,88],[1770,76],[1773,83],[1776,83],[1779,89],[1782,78],[1785,85],[1788,81],[1791,87],[1794,77],[1797,84],[1800,85],[1803,79],[1806,88],[1809,80],[1812,83],[1815,90],[1818,68],[1821,86],[1824,88],[1827,80],[1830,90],[1833,82],[1836,86],[1839,92],[1842,80],[1845,87],[1848,81],[1851,90],[1854,78],[1857,95],[1860,88],[1863,76],[1866,55],[1869,82],[1872,85],[1875,93],[1878,88],[1881,80],[1884,85],[1887,92],[1890,82],[1894,85],[1898,80],[1902,78],[1906,74],[1910,76],[1914,70],[1918,72],[1923,67],[1927,70],[1932,68],[1936,64],[1941,68],[1945,63],[1950,66],[1955,62],[1959,67],[1964,63],[1968,65],[1973,61],[1977,66],[1982,60],[1986,63],[1991,59],[1995,64],[2000,60],[2004,61],[2009,58],[2013,63],[2018,57],[2022,60],[2027,64],[2031,58],[2036,62],[2040,61],[2045,65],[2049,59],[2054,64],[2058,63],[2063,58],[2067,63],[2072,59],[2076,61],[2081,56],[2085,61],[2090,56],[2094,58],[2099,53],[2103,58],[2108,53],[2112,55],[2117,51],[2121,56],[2126,50],[2130,53],[2135,49],[2139,54],[2144,49],[2148,51],[2154,47],[2160,52],[2166,47],[2172,50],[2178,46],[2184,51],[2190,46],[2196,48],[2202,44],[2208,50],[2214,45],[2220,48],[2226,52],[2232,46],[2238,50],[2244,48],[2250,53],[2256,47],[2262,51],[2268,50],[2274,46],[2280,52],[2286,47],[2292,50],[2298,54],[2304,47],[2310,51],[2316,50],[2322,45],[2328,50],[2334,45],[2340,48],[2346,44],[2352,49],[2358,44],[2364,46],[2370,42],[2376,48],[2382,43],[2388,46],[2394,50],[2400,43],[2406,48],[2412,45],[2418,50],[2424,43],[2430,46],[2436,40],[2442,46],[2448,50],[2454,44],[2460,46],[2466,42],[2472,48],[2478,43],[2484,45],[2490,41],[2496,47],[2502,42],[2508,45],[2514,40],[2520,46],[2526,41],[2532,43],[2538,39],[2544,45],[2550,40],[2556,43],[2562,38],[2568,44],[2574,39],[2580,41],[2586,37],[2592,43],[2598,38],[2604,41],[2610,45],[2616,38],[2622,43],[2628,40],[2634,36],[2640,43],[2646,38],[2652,40],[2658,36],[2664,43],[2670,38],[2676,41],[2682,37],[2688,43],[2694,38],[2700,40],[2706,36],[2712,42],[2718,37],[2724,41],[2730,37],[2736,40],[2740,44],[2744,38],[2748,45],[2751,55],[2754,51],[2757,44],[2760,48],[2763,58],[2766,53],[2769,46],[2772,48],[2775,56],[2778,51],[2781,44],[2784,50],[2788,42],[2792,48],[2796,45],[2800,37],[2804,44],[2808,40],[2811,35],[2814,43],[2817,48],[2820,38],[2824,33],[2828,44],[2832,40],[2836,34],[2840,41],[2844,38],[2848,44],[2852,36],[2856,41],[2860,45],[2864,37],[2868,42],[2871,40]];

const J0000 = [[1177,67],[1178,90],[1180,96],[1182,75],[1184,63],[1186,100],[1188,121],[1190,105],[1191,100],[1193,125],[1195,129],[1197,110],[1198,117],[1200,135],[1203,133],[1205,115],[1208,125],[1210,130],[1212,27],[1214,120],[1215,133],[1217,140],[1220,146],[1222,135],[1225,137],[1227,128],[1229,141],[1231,130],[1234,133],[1236,120],[1239,125],[1241,135],[1244,129],[1246,112],[1249,117],[1251,100],[1253,108],[1255,125],[1258,121],[1260,100],[1263,104],[1265,116],[1268,112],[1270,96],[1273,102],[1276,95],[1279,92],[1282,108],[1285,106],[1288,92],[1291,96],[1294,108],[1297,104],[1300,92],[1303,94],[1306,105],[1309,100],[1312,92],[1315,96],[1318,106],[1321,104],[1324,94],[1327,98],[1330,104],[1333,94],[1336,100],[1339,92],[1342,102],[1345,100],[1348,92],[1351,98],[1354,93],[1357,96],[1360,103],[1363,95],[1366,100],[1369,98],[1372,92],[1375,97],[1378,91],[1381,94],[1384,100],[1387,92],[1390,99],[1393,96],[1396,102],[1399,95],[1402,100],[1405,98],[1408,92],[1411,97],[1414,90],[1417,94],[1420,89],[1423,95],[1426,88],[1429,92],[1432,97],[1435,98],[1438,90],[1441,87],[1444,84],[1447,60],[1450,87],[1453,82],[1456,88],[1459,85],[1462,80],[1465,86],[1468,82],[1471,83],[1474,89],[1477,82],[1480,88],[1483,87],[1486,80],[1489,86],[1492,82],[1495,83],[1498,89],[1501,85],[1504,92],[1507,90],[1510,96],[1513,91],[1516,96],[1519,94],[1522,89],[1525,95],[1528,88],[1531,92],[1534,86],[1537,90],[1540,84],[1543,87],[1546,82],[1549,88],[1552,83],[1555,85],[1558,80],[1561,86],[1564,80],[1567,83],[1570,88],[1573,81],[1575,85],[1578,82],[1580,56],[1582,80],[1584,83],[1588,78],[1592,85],[1596,83],[1600,79],[1604,86],[1608,81],[1612,77],[1616,84],[1620,83],[1624,79],[1628,85],[1632,81],[1636,77],[1640,83],[1644,81],[1648,76],[1652,82],[1656,79],[1660,75],[1664,81],[1668,79],[1672,84],[1676,78],[1680,81],[1684,77],[1688,84],[1690,83],[1693,78],[1696,31],[1698,70],[1700,75],[1702,85],[1704,85],[1708,92],[1712,86],[1716,90],[1720,95],[1724,88],[1728,92],[1732,86],[1736,91],[1740,90],[1744,84],[1748,89],[1752,87],[1756,82],[1760,88],[1764,85],[1768,90],[1772,83],[1776,87],[1780,82],[1784,88],[1788,85],[1792,80],[1796,86],[1800,83],[1804,88],[1808,81],[1812,85],[1816,80],[1820,86],[1824,81],[1828,85],[1832,79],[1836,83],[1840,87],[1844,80],[1848,81],[1852,86],[1856,79],[1860,83],[1864,78],[1868,84],[1872,81],[1876,78],[1880,84],[1884,83],[1888,78],[1892,85],[1896,81],[1900,77],[1904,83],[1908,83],[1912,78],[1916,84],[1920,81],[1924,76],[1928,80],[1932,77],[1936,73],[1940,78],[1944,75],[1948,70],[1952,76],[1956,73],[1960,69],[1964,75],[1968,73],[1972,68],[1976,73],[1980,71],[1984,66],[1988,71],[1992,69],[1996,64],[2000,70],[2004,69],[2008,64],[2012,69],[2016,67],[2020,62],[2024,68],[2028,65],[2032,69],[2036,63],[2040,67],[2044,71],[2048,66],[2052,69],[2056,73],[2060,68],[2064,71],[2068,66],[2072,71],[2076,69],[2080,65],[2084,70],[2088,69],[2092,64],[2096,70],[2100,69],[2104,64],[2108,69],[2112,67],[2116,62],[2120,67],[2124,65],[2128,59],[2132,64],[2136,60],[2140,56],[2144,62],[2148,60],[2152,55],[2156,61],[2160,58],[2164,54],[2168,60],[2172,58],[2176,53],[2180,59],[2184,56],[2188,52],[2192,58],[2196,56],[2200,51],[2204,56],[2208,54],[2212,50],[2216,55],[2220,52],[2224,48],[2228,53],[2232,50],[2236,47],[2240,51],[2244,49],[2248,53],[2252,48],[2256,51],[2260,55],[2264,50],[2268,52],[2272,57],[2276,51],[2280,54],[2286,59],[2292,53],[2298,57],[2304,56],[2310,61],[2316,54],[2322,59],[2328,58],[2334,53],[2340,56],[2346,61],[2352,56],[2358,51],[2364,57],[2370,52],[2376,54],[2382,49],[2388,55],[2394,50],[2400,52],[2406,57],[2412,51],[2418,58],[2421,51],[2424,54],[2430,49],[2436,55],[2442,50],[2448,52],[2454,47],[2460,53],[2466,48],[2472,50],[2478,54],[2484,47],[2490,52],[2496,50],[2502,45],[2508,51],[2514,46],[2520,48],[2526,52],[2532,45],[2538,50],[2544,48],[2550,43],[2556,50],[2562,44],[2568,46],[2572,52],[2576,40],[2580,44],[2584,53],[2588,42],[2592,48],[2596,38],[2600,47],[2604,42],[2608,50],[2612,40],[2616,46],[2620,51],[2624,40],[2628,47],[2632,42],[2636,48],[2640,44],[2644,38],[2648,47],[2652,42],[2656,49],[2660,40],[2664,44],[2668,50],[2672,39],[2676,46],[2680,41],[2684,48],[2688,42],[2692,36],[2696,46],[2700,41],[2704,49],[2708,39],[2712,46],[2716,52],[2720,40],[2724,47],[2728,38],[2732,48],[2736,44],[2740,52],[2744,36],[2748,38],[2751,55],[2754,50],[2757,34],[2760,42],[2764,53],[2768,38],[2772,46],[2776,54],[2780,37],[2784,40],[2788,50],[2792,42],[2796,48],[2800,39],[2804,50],[2808,44],[2812,52],[2816,41],[2820,46],[2824,51],[2828,42],[2832,46],[2836,50],[2840,40],[2844,42],[2847,47],[2850,40]];

const J0946 = [[1125,155],[1129,76],[1132,150],[1136,84],[1140,159],[1143,47],[1147,150],[1150,159],[1154,142],[1158,163],[1161,150],[1165,159],[1168,51],[1172,155],[1176,167],[1179,159],[1183,88],[1186,163],[1190,167],[1194,159],[1197,34],[1201,167],[1204,171],[1208,150],[1212,159],[1215,171],[1219,167],[1222,175],[1225,28],[1228,159],[1232,163],[1236,150],[1239,167],[1243,84],[1246,159],[1250,155],[1255,161],[1257,155],[1263,150],[1270,142],[1277,134],[1285,130],[1292,126],[1299,123],[1309,121],[1318,119],[1327,119],[1333,113],[1339,119],[1341,80],[1345,117],[1351,115],[1357,119],[1363,117],[1369,114],[1375,115],[1381,119],[1387,117],[1393,113],[1399,113],[1405,110],[1411,111],[1417,107],[1423,105],[1429,103],[1435,101],[1441,102],[1447,99],[1453,97],[1459,96],[1465,93],[1471,94],[1477,97],[1483,96],[1489,93],[1495,94],[1501,97],[1507,96],[1513,98],[1519,99],[1521,92],[1523,78],[1525,90],[1528,96],[1532,98],[1536,96],[1542,93],[1548,94],[1554,91],[1560,92],[1566,89],[1572,88],[1578,85],[1584,84],[1590,86],[1596,84],[1602,81],[1608,82],[1614,85],[1620,84],[1626,82],[1632,84],[1638,86],[1644,85],[1650,82],[1656,84],[1662,81],[1668,82],[1671,86],[1674,86],[1676,80],[1678,74],[1680,80],[1683,84],[1688,82],[1692,86],[1698,83],[1704,84],[1710,81],[1716,82],[1722,85],[1728,82],[1737,80],[1746,82],[1755,84],[1764,82],[1773,80],[1782,82],[1791,84],[1800,82],[1809,80],[1818,82],[1827,85],[1836,84],[1845,82],[1854,84],[1863,81],[1872,82],[1881,85],[1890,84],[1899,81],[1908,82],[1917,79],[1926,80],[1935,77],[1944,78],[1953,74],[1962,76],[1971,73],[1980,72],[1989,69],[1998,70],[2007,72],[2016,70],[2025,73],[2034,72],[2043,74],[2052,72],[2061,74],[2070,72],[2079,70],[2088,72],[2097,69],[2106,70],[2115,67],[2124,67],[2133,64],[2142,65],[2151,62],[2160,63],[2169,60],[2178,63],[2187,60],[2196,61],[2205,59],[2214,61],[2223,58],[2232,61],[2241,62],[2250,59],[2259,62],[2268,61],[2277,58],[2286,61],[2295,63],[2304,61],[2313,59],[2322,63],[2331,60],[2340,61],[2349,64],[2358,63],[2367,60],[2376,61],[2385,63],[2394,60],[2400,61],[2409,63],[2418,61],[2420,56],[2422,51],[2424,57],[2426,61],[2435,58],[2448,59],[2457,62],[2466,58],[2475,60],[2484,57],[2496,57],[2505,59],[2514,56],[2520,57],[2529,54],[2538,58],[2547,55],[2556,57],[2565,54],[2574,56],[2583,53],[2592,55],[2601,57],[2610,53],[2619,56],[2628,52],[2640,53],[2649,55],[2658,51],[2667,54],[2676,50],[2685,53],[2694,49],[2700,52],[2703,48],[2706,55],[2709,47],[2712,54],[2714,53],[2717,46],[2721,43]];

const J1521 = [[1195,123],[1198,86],[1202,119],[1206,82],[1209,115],[1213,82],[1216,115],[1220,65],[1223,59],[1226,119],[1229,136],[1233,140],[1239,138],[1245,136],[1251,136],[1257,134],[1263,131],[1268,115],[1273,127],[1282,125],[1291,127],[1303,125],[1315,123],[1327,123],[1339,123],[1351,123],[1363,123],[1375,125],[1387,121],[1393,113],[1399,109],[1405,107],[1417,104],[1429,102],[1441,102],[1453,102],[1465,104],[1477,104],[1489,104],[1501,107],[1513,107],[1525,108],[1537,104],[1549,98],[1560,92],[1572,90],[1584,88],[1602,88],[1620,88],[1638,88],[1656,90],[1674,86],[1692,86],[1710,86],[1728,84],[1752,84],[1776,84],[1800,84],[1824,84],[1848,84],[1872,82],[1896,80],[1920,78],[1938,73],[1956,69],[1974,67],[1992,68],[2016,69],[2040,70],[2064,69],[2082,67],[2100,65],[2118,63],[2136,61],[2160,59],[2184,59],[2208,58],[2232,58],[2256,57],[2280,57],[2304,58],[2328,57],[2352,56],[2376,55],[2400,55],[2424,55],[2448,53],[2472,51],[2496,49],[2520,48],[2544,48],[2568,48],[2592,47],[2616,46],[2640,45],[2664,44],[2688,43],[2712,44],[2736,46],[2760,48],[2784,48],[2802,48],[2820,45],[2832,42],[2850,40],[2868,39],[2889,39]];

const PHL1811 = [[1053,143],[1057,108],[1060,143],[1065,141],[1071,145],[1077,137],[1083,132],[1088,139],[1093,132],[1098,95],[1101,66],[1105,124],[1110,128],[1114,120],[1119,132],[1123,83],[1126,128],[1131,132],[1136,126],[1141,135],[1144,95],[1148,130],[1153,135],[1158,103],[1161,137],[1166,141],[1170,120],[1173,143],[1178,147],[1183,145],[1189,151],[1195,149],[1201,153],[1207,155],[1213,157],[1219,158],[1225,159],[1231,162],[1237,157],[1243,151],[1249,145],[1255,143],[1261,139],[1267,118],[1270,112],[1273,114],[1276,118],[1279,116],[1282,110],[1285,114],[1288,108],[1291,112],[1294,116],[1297,114],[1300,108],[1303,112],[1306,104],[1309,106],[1312,110],[1315,108],[1318,101],[1321,103],[1324,106],[1327,101],[1330,104],[1333,99],[1336,103],[1339,96],[1342,101],[1345,97],[1348,103],[1351,99],[1354,104],[1357,101],[1360,106],[1363,100],[1366,107],[1369,103],[1372,109],[1375,102],[1378,110],[1381,108],[1384,114],[1387,112],[1390,106],[1393,110],[1396,104],[1399,101],[1402,103],[1405,99],[1411,97],[1417,95],[1423,92],[1429,89],[1435,88],[1441,87],[1447,85],[1453,83],[1459,82],[1465,81],[1471,83],[1477,81],[1483,82],[1489,83],[1495,81],[1501,81],[1507,84],[1513,83],[1519,84],[1525,85],[1531,88],[1537,91],[1540,94],[1543,97],[1546,92],[1549,89],[1552,85],[1555,83],[1560,79],[1566,78],[1572,76],[1578,76],[1584,74],[1590,73],[1596,72],[1602,75],[1608,74],[1614,71],[1620,72],[1626,71],[1632,70],[1638,72],[1644,70],[1650,71],[1656,72],[1662,70],[1668,70],[1674,71],[1680,70],[1686,68],[1692,68],[1698,69],[1704,70],[1710,67],[1716,68],[1722,67],[1728,66],[1734,65],[1740,64],[1746,65],[1752,64],[1758,65],[1764,66],[1770,63],[1776,64],[1782,68],[1788,62],[1794,63],[1800,62],[1806,64],[1812,64],[1818,65],[1824,64],[1830,66],[1836,66],[1842,68],[1848,68],[1854,65],[1860,64],[1866,65],[1872,66],[1878,64],[1884,64],[1890,65],[1896,66],[1902,67],[1908,68],[1914,67],[1920,66],[1926,65],[1932,64],[1938,63],[1944,62],[1950,61],[1956,60],[1962,60],[1968,59],[1974,58],[1980,58],[1986,59],[1992,60],[1998,59],[2004,58],[2010,57],[2016,56],[2022,57],[2028,58],[2034,58],[2040,59],[2046,60],[2052,60],[2058,61],[2064,62],[2070,61],[2076,60],[2082,60],[2088,59],[2094,59],[2100,58],[2106,57],[2112,56],[2118,57],[2124,56],[2130,55],[2136,54],[2142,55],[2148,54],[2154,55],[2160,56],[2166,55],[2172,54],[2178,54],[2184,53],[2190,52],[2196,52],[2202,51],[2208,50],[2214,50],[2220,49],[2226,48],[2232,46],[2238,47],[2244,49],[2250,50],[2256,52],[2268,53],[2280,54],[2292,55],[2304,56],[2316,57],[2328,57],[2340,56],[2352,56],[2364,55],[2376,54],[2388,55],[2400,56],[2412,55],[2424,54],[2436,53],[2448,52],[2460,51],[2472,50],[2484,50],[2496,49],[2508,50],[2520,49],[2532,48],[2544,47],[2556,46],[2568,46],[2580,47],[2592,47],[2604,48],[2616,49],[2622,47],[2628,46],[2634,41]];

// red crosses (wavelength, flux) flagged features
const crossesJ0848 = [[1219,33],[1552,59]];
const crossesJ1230a = [[1221,26],[1554,41],[1556,42]];
const crossesJ1219 = [[1404,63],[1541,63],[1209,19],[1219,-9],[1229,-9],[1239,-9],[1553,-9]];

// annotation texts
const leftNames  = ["Composite Spectrum", "J1454+0324", "J1618+0704", "J0903+0708", "J1230+2049", "J1219+1244"];
const leftZ      = ["Vanden Berk et al. (2001)", "z=2.367", "z=2.235", "z=2.224", "z=2.280", "z=2.233"];
const leftAox    = [null, "= 0.42", "= 0.28", "=−0.07", "<−0.26", "<−0.29"];
const leftErrUp  = [null, "+0.01", "+0.01", "+0.04", null, null];
const leftErrLo  = [null, "−0.01", "−0.01", "−0.04", null, null];
const leftNote   = [null, "Radio−Intermediate", "Radio−Intermediate", null, null, null];

const rightNames = ["J0848+5408", "J1230+3320", "J1125+5028", "J0000+1356", "J0946+2744", "J1521+5202", "PHL 1811"];
const rightZ     = ["z=2.225", "z=2.286", "z=2.200", "z=2.234", "z=2.382", "z=2.190", "z=0.190"];
const rightAox   = ["<−0.33", "<−0.35", "=−0.36", "=−0.37", "=−0.37", "=−0.59", "=−0.68"];
const rightErrUp = [null, null, "+0.10", "+0.10", "+0.10", "+0.11", null];
const rightErrLo = [null, null, "−0.11", "−0.10", "−0.10", "−0.12", null];

// ---------------- LAYOUT ----------------
const PW = 542, TOP = 2, BOT = 1443;
const leftLabelFlux  = [174, 143, 160, 121, 148, 133];
const rightLabelFlux = [123, 121, 116, 117, 142, 112, 134];
const leftLabelWave = [1798, 2200, 2200, 2200, 2200, 2200];
const rightLabelWave = [2200, 2200, 2200, 2200, 2200, 2200, 2200];
const leftLabelSpacing = [1.6, 0.6, 0.6, 0.6, 0.6, 0.6];
const rightLabelSpacing = [0.6, 0.6, 0.6, 0.6, 0.6, 0.6, 0.6];
const noteLength = 198;

const columns = [
  {x0: 59, spectra: [composite, J1454, J1618, J0903, J1230a, J1219], offsets: leftOffsets,
   crosses: [null, null, null, null, crossesJ1230a, crossesJ1219],
   names: leftNames, zs: leftZ, aox: leftAox, up: leftErrUp, lo: leftErrLo, notes: leftNote,
   lflux: leftLabelFlux, lwave: leftLabelWave, lsp: leftLabelSpacing, filters: false},
  {x0: 633, spectra: [J0848, J1230b, J1125, J0000, J0946, J1521, PHL1811], offsets: rightOffsets,
   crosses: [crossesJ0848, null, null, null, null, null, null],
   names: rightNames, zs: rightZ, aox: rightAox, up: rightErrUp, lo: rightErrLo, notes: rightNames.map(() => null),
   lflux: rightLabelFlux, lwave: rightLabelWave, lsp: rightLabelSpacing, filters: true}
];

const svg = d3.select("#chart");
const axisColor = "#333";
const defs = svg.append("defs");

columns.forEach((col, ci) => {
  const x = d3.scaleLinear().domain(waveDomain).range([col.x0, col.x0 + PW]);
  const y = d3.scaleLinear().domain(fluxDomain).range([BOT, TOP]);
  const g = svg.append("g");

  defs.append("clipPath").attr("id", "clip" + ci)
    .append("rect").attr("x", col.x0).attr("y", TOP).attr("width", PW).attr("height", BOT - TOP);

  // frame
  g.append("rect").attr("x", col.x0).attr("y", TOP).attr("width", PW).attr("height", BOT - TOP)
    .attr("fill", "none").attr("stroke", axisColor).attr("stroke-width", 1.2);

  // ticks: top (pointing down), bottom (pointing up)
  const tickSets = [[minorTicks, 13], [majorTicks, 28]];
  tickSets.forEach(([vals, len]) => {
    g.append("g").attr("transform", `translate(0,${TOP})`)
      .call(d3.axisBottom(x).tickValues(vals).tickSize(len).tickFormat(""))
      .call(s => s.select(".domain").remove())
      .selectAll("line").attr("stroke", axisColor).attr("stroke-width", 1.1);
    g.append("g").attr("transform", `translate(0,${BOT})`)
      .call(d3.axisTop(x).tickValues(vals).tickSize(len).tickFormat(""))
      .call(s => s.select(".domain").remove())
      .selectAll("line").attr("stroke", axisColor).attr("stroke-width", 1.1);
  });
  // tick labels
  const lab = g.append("g").attr("transform", `translate(0,${BOT})`)
    .call(d3.axisBottom(x).tickValues(majorTicks).tickSize(0).tickPadding(18).tickFormat(d3.format("d")));
  lab.select(".domain").remove();
  lab.selectAll("text").attr("font-family", "'Liberation Sans', Arial, sans-serif")
    .attr("font-size", 19).attr("fill", "#333");

  // x axis title
  g.append("text").attr("class", "serif").attr("x", x(1990)).attr("y", 1501)
    .attr("text-anchor", "middle").attr("font-size", 20).style("letter-spacing", "1.6px").text("Rest−Frame λ ( Å )");

  // separator marks on both sides
  col.offsets.forEach(v => {
    const yy = y(v);
    g.append("line").attr("x1", col.x0).attr("x2", col.x0 + 28).attr("y1", yy).attr("y2", yy)
      .attr("stroke", axisColor).attr("stroke-width", 1.2);
    g.append("line").attr("x1", col.x0 + PW - 28).attr("x2", col.x0 + PW).attr("y1", yy).attr("y2", yy)
      .attr("stroke", axisColor).attr("stroke-width", 1.2);
  });

  // spectra
  const plot = g.append("g").attr("clip-path", `url(#clip${ci})`);
  col.spectra.forEach((spec, si) => {
    const off = col.offsets[si];
    const line = d3.line().x(d => x(d[0])).y(d => y(off + d[1]));
    plot.append("path").datum(spec).attr("d", line)
      .attr("fill", "none").attr("stroke", "#000").attr("stroke-width", 1.1).attr("stroke-linejoin", "round");
    const cr = col.crosses[si];
    if (cr) {
      cr.forEach(c => {
        const cx = x(c[0]), cy = y(off + c[1]);
        plot.append("line").attr("x1", cx - 8).attr("x2", cx + 8).attr("y1", cy).attr("y2", cy)
          .attr("stroke", "#f00").attr("stroke-width", 1.3);
        plot.append("line").attr("x1", cx).attr("x2", cx).attr("y1", cy - 8).attr("y2", cy + 8)
          .attr("stroke", "#f00").attr("stroke-width", 1.3);
      });
    }
  });

  // annotations: one <text> element per block, lines as tspans
  const LH = 20.3;
  col.names.forEach((nm, si) => {
    const off = col.offsets[si];
    const ax = x(col.lwave[si]);
    const yb = y(off + col.lflux[si]);
    const tg = g.append("g").attr("class", "serif").attr("font-size", 20)
      .style("letter-spacing", col.lsp[si] + "px");
    const t = tg.append("text").attr("x", ax).attr("y", yb);
    t.append("tspan").attr("x", ax).attr("y", yb).text(nm);
    t.append("tspan").attr("x", ax).attr("y", yb + LH).text(col.zs[si]);
    if (col.aox[si]) {
      t.append("tspan").attr("x", ax).attr("y", yb + 2 * LH).text("Δ");
      t.append("tspan").attr("font-style", "italic").text("α");
      t.append("tspan").attr("font-size", 14).attr("dy", 4).text("ox");
      const vt = t.append("tspan").attr("dy", -4).text(col.aox[si]);
      if (col.up[si]) {
        const bb = vt.node().getBBox();
        const end = bb.x + bb.width;
        const gap = col.aox[si].startsWith("= ") ? 5 : -1;
        t.append("tspan").attr("x", end + gap).attr("y", yb + 2 * LH - 8).attr("font-size", 12)
          .style("letter-spacing", "0.4px").text(col.up[si]);
        t.append("tspan").attr("x", end + gap).attr("y", yb + 2 * LH + 5).attr("font-size", 12)
          .style("letter-spacing", "0.4px").text(col.lo[si]);
      }
    }
    if (col.notes[si]) {
      tg.append("text").attr("x", ax).attr("y", yb + 3 * LH)
        .attr("textLength", noteLength).attr("lengthAdjust", "spacingAndGlyphs").text(col.notes[si]);
    }
  });

  // emission line identifications
  const markTop = 1344, markBot = 1358, textTop = 1363;
  lineNames.forEach((nm, i) => {
    const lx = x(lineWaves[i]);
    g.append("line").attr("x1", lx).attr("x2", lx).attr("y1", markTop).attr("y2", markBot)
      .attr("stroke", axisColor).attr("stroke-width", 1.1);
    g.append("text").attr("class", "serif").attr("font-size", 20)
      .attr("transform", `translate(${lx},${textTop}) rotate(90)`).attr("dy", "0.36em").text(nm);
  });
  const fa = x(feIIRange[0]), fb = x(feIIRange[1]);
  g.append("path").attr("d", `M${fa},${markTop}V${markBot}H${fb}V${markTop}`)
    .attr("fill", "none").attr("stroke", axisColor).attr("stroke-width", 1.1);
  g.append("text").attr("class", "serif").attr("font-size", 20)
    .attr("transform", `translate(${x(d3.mean(feIIRange))},${textTop}) rotate(90)`).attr("dy", "0.36em").text(feIIName);

  // SDSS filters
  if (col.filters) {
    filterNames.forEach((f, i) => {
      const fx = x(filterWaves[i]);
      g.append("line").attr("x1", fx).attr("x2", fx).attr("y1", 26).attr("y2", 45)
        .attr("stroke", axisColor).attr("stroke-width", 1.1);
      g.append("text").attr("x", fx).attr("y", 72).attr("text-anchor", "middle")
        .attr("font-family", "'DejaVu Serif', serif").attr("font-style", "italic")
        .attr("font-size", 26).attr("fill", "#222").text(f);
    });
  }
});

// y axis label
const yl = svg.append("text").attr("class", "serif").attr("font-size", 20)
  .attr("transform", "translate(24,722) rotate(-90)").attr("text-anchor", "middle");
yl.append("tspan").text("F");
yl.append("tspan").attr("font-size", 14).attr("dy", 5).text("λ");
</script>
</body></html>
